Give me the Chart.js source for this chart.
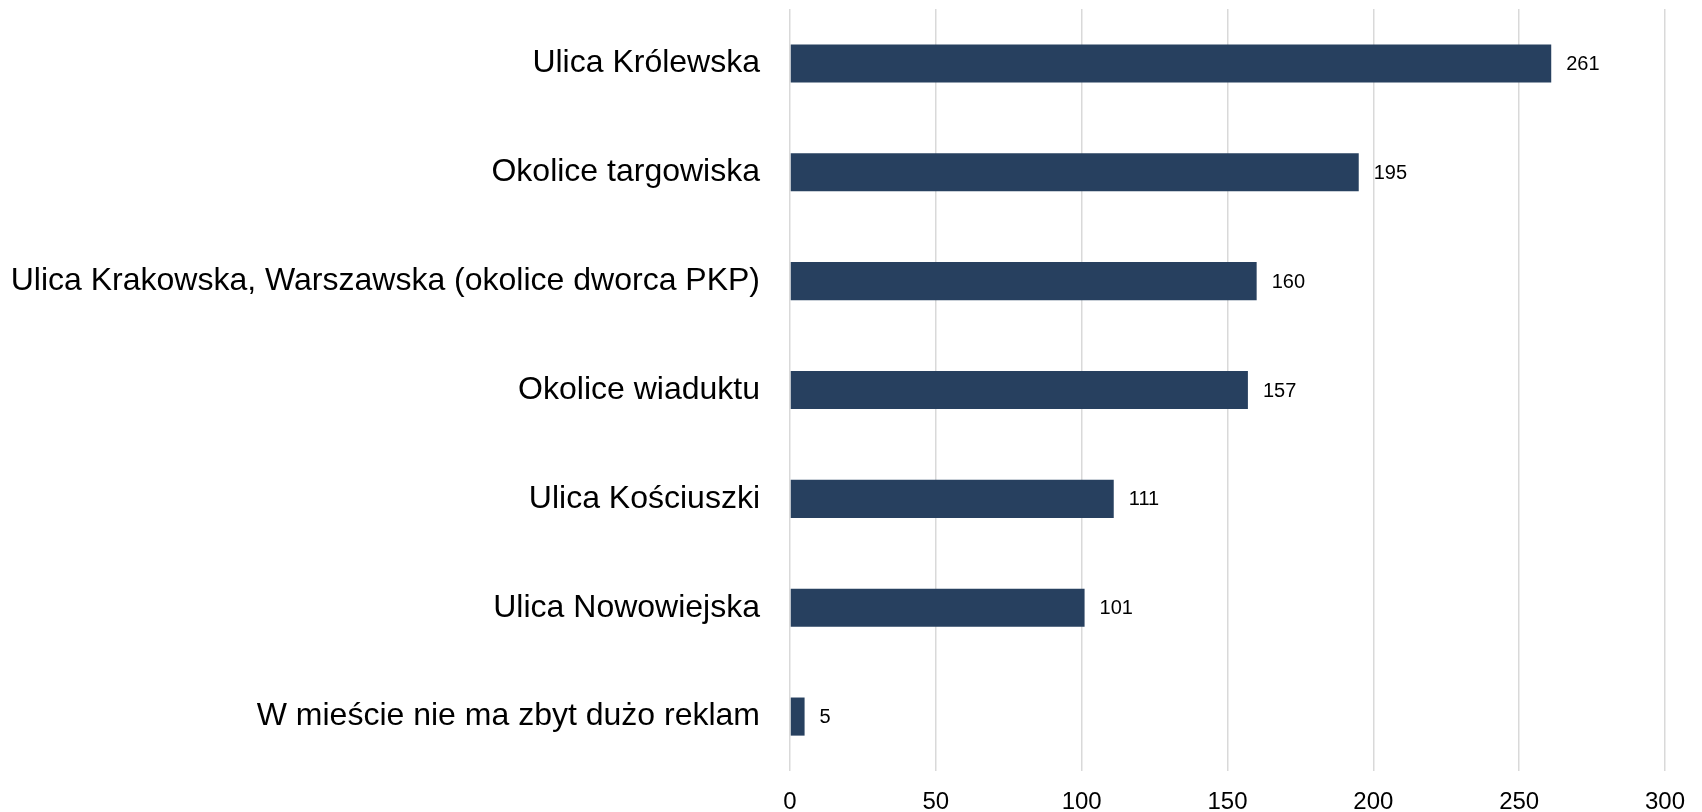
<!DOCTYPE html>
<html>
<head>
<meta charset="utf-8">
<script src="https://cdn.jsdelivr.net/npm/chart.js@4"></script>
<style>
  html, body { margin: 0; padding: 0; background: #fff; }
  #wrap { width: 1702px; height: 812px; }
</style>
</head>
<body>
<div id="wrap"><canvas id="barChart"></canvas></div>
<script>
const categories = [
  'Ulica Królewska',
  'Okolice targowiska',
  'Ulica Krakowska, Warszawska (okolice dworca PKP)',
  'Okolice wiaduktu',
  'Ulica Kościuszki',
  'Ulica Nowowiejska',
  'W mieście nie ma zbyt dużo reklam'
];
const counts = [261, 195, 160, 157, 111, 101, 5];
const xTicks = [0, 50, 100, 150, 200, 250, 300];

const FONT = '"Liberation Sans", Arial, sans-serif';

// value labels next to each bar end
const valueLabels = {
  id: 'valueLabels',
  afterDatasetsDraw(chart) {
    const ctx = chart.ctx;
    const meta = chart.getDatasetMeta(0);
    ctx.save();
    ctx.font = '20px ' + FONT;
    ctx.fillStyle = '#000';
    ctx.textAlign = 'left';
    ctx.textBaseline = 'middle';
    meta.data.forEach((bar, i) => {
      ctx.fillText(String(counts[i]), bar.x + 15, bar.y + 1);
    });
    ctx.restore();
  }
};

const ctx = document.getElementById('barChart').getContext('2d');
window.barChart = new Chart(ctx, {
  type: 'bar',
  data: {
    labels: categories,
    datasets: [{
      data: counts,
      backgroundColor: '#27405f',
      borderWidth: 0,
      barPercentage: 0.35,
      categoryPercentage: 1
    }]
  },
  options: {
    indexAxis: 'y',
    responsive: true,
    maintainAspectRatio: false,
    animation: false,
    layout: { padding: { top: 9, right: 35, bottom: 0, left: 0 } },
    plugins: {
      legend: { display: false },
      tooltip: { enabled: false }
    },
    scales: {
      x: {
        min: 0,
        max: 300,
        afterBuildTicks: scale => { scale.ticks = xTicks.map(v => ({ value: v })); },
        afterFit: scale => { scale.height = 41; },
        grid: { color: '#d9d9d9', lineWidth: 1.5, drawTicks: false },
        border: { display: false },
        ticks: {
          padding: 17,
          color: '#000',
          font: { family: FONT, size: 24 }
        }
      },
      y: {
        afterFit: scale => {
          scale.width = 790;
          scale.paddingTop = 0;
          scale.paddingBottom = 0;
        },
        grid: { display: false, drawTicks: false },
        border: { display: false },
        ticks: {
          padding: 30,
          color: '#000',
          font: { family: FONT, size: 32 }
        }
      }
    }
  },
  plugins: [valueLabels]
});
</script>
</body>
</html>
